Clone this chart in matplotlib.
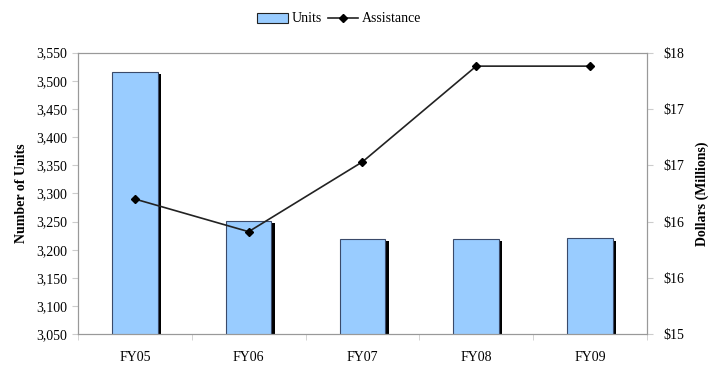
import matplotlib
matplotlib.use('Agg')
import matplotlib.pyplot as plt
import matplotlib.patheffects as pe
from matplotlib.patches import Patch
from matplotlib.ticker import FuncFormatter, MultipleLocator, FixedLocator
import numpy as np

years = ['FY05', 'FY06', 'FY07', 'FY08', 'FY09']
units = [3516, 3251, 3219, 3219, 3220]
assistance = [16.20, 15.91, 16.53, 17.38, 17.38]

plt.rcParams['font.family'] = ['Liberation Serif', 'DejaVu Serif']
plt.rcParams['font.size'] = 10

fig = plt.figure(figsize=(7.22, 3.68), dpi=100)
ax1 = fig.add_axes([0.108, 0.092, 0.788, 0.765])
ax2 = ax1.twinx()

x = np.arange(len(years))

# bars with a hard black drop shadow
bars = ax1.bar(x, units, width=0.4, color='#99ccff',
               edgecolor='#3a4a6a', linewidth=0.8, zorder=2)
for b in bars:
    b.set_path_effects([pe.SimplePatchShadow(offset=(2.5, -1.5), shadow_rgbFace='black', alpha=1.0),
                        pe.Normal()])

ln, = ax2.plot(x, assistance, '-D', color='#222222', markerfacecolor='black',
               markeredgecolor='black', markersize=4, linewidth=1.2)

ax1.set_xlim(-0.5, len(years) - 0.5)
ax1.set_ylim(3050, 3550)
ax1.yaxis.set_major_locator(MultipleLocator(50))
ax1.yaxis.set_major_formatter(FuncFormatter(lambda v, p: f'{v:,.0f}'))
ax2.set_ylim(15, 17.5)
ax2.yaxis.set_major_locator(MultipleLocator(0.5))
# whole-dollar labels, rounded half up
ax2.yaxis.set_major_formatter(FuncFormatter(lambda v, p: f'${int(np.floor(v + 0.5))}'))

ax1.set_xticks(x)
ax1.set_xticklabels(years)
ax1.xaxis.set_minor_locator(FixedLocator(np.arange(-0.5, len(years), 1.0)))
ax1.tick_params(axis='x', which='major', length=0, pad=12)
ax1.tick_params(axis='x', which='minor', length=4, color='#cccccc')
ax1.tick_params(axis='y', length=4, color='#cccccc', pad=4)
ax2.tick_params(axis='y', length=4, color='#cccccc', pad=8)

for ax in (ax1, ax2):
    for s in ax.spines.values():
        s.set_color('#999999')
        s.set_linewidth(0.8)

ax1.set_ylabel('Number of Units', fontweight='bold', labelpad=6)
ax2.set_ylabel('Dollars (Millions)', fontweight='bold', labelpad=8)

unit_patch = Patch(facecolor='#99ccff', edgecolor='#222222', linewidth=0.8)
fig.legend([unit_patch, ln], ['Units', 'Assistance'], loc='upper center',
           bbox_to_anchor=(0.47, 1.0), ncol=2, frameon=False,
           handlelength=2.2, handletextpad=0.3, columnspacing=0.4)

fig.savefig('out.png', dpi=100)
